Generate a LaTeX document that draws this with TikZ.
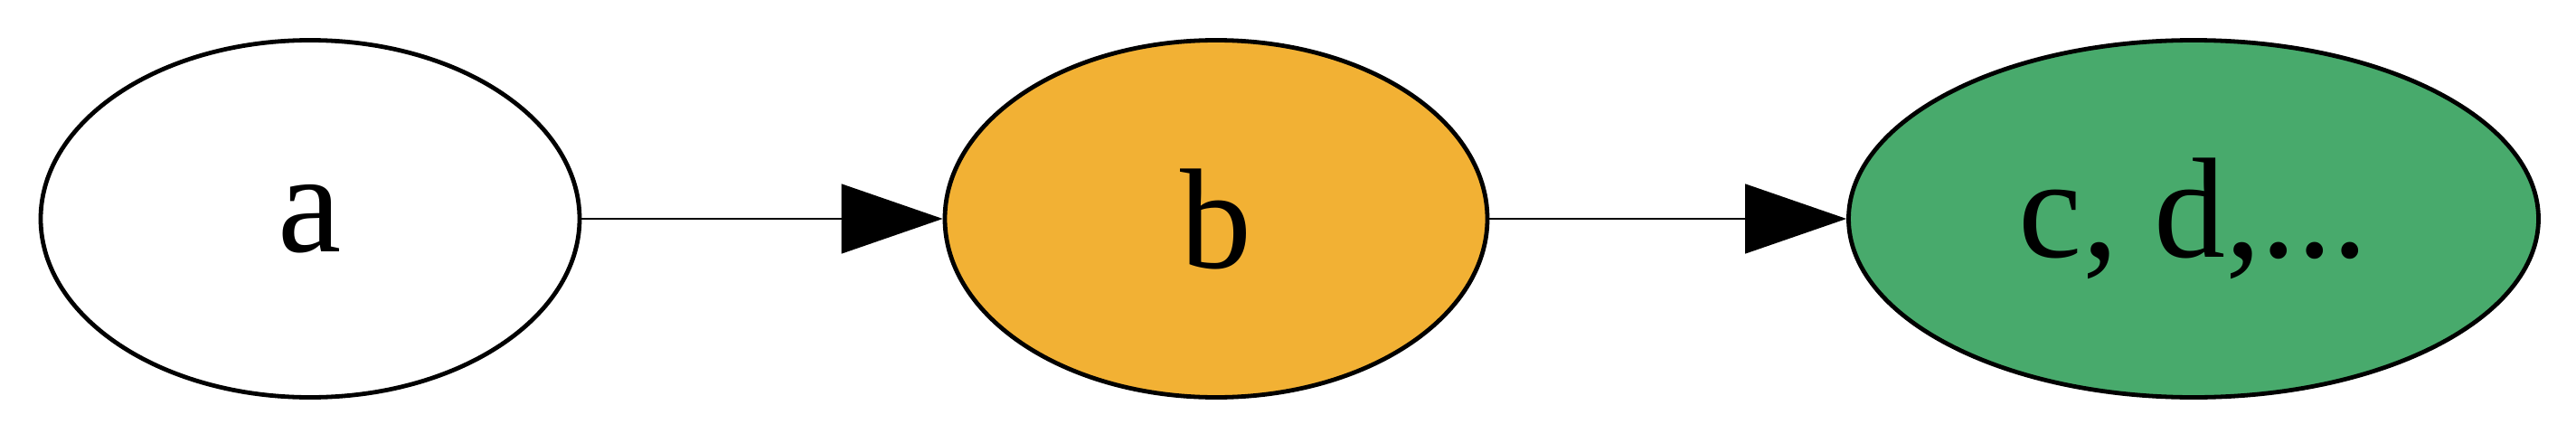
\documentclass[tikz,border=0pt]{standalone}
\usepackage{fontspec}
\setmainfont{Liberation Serif}
\usetikzlibrary{shapes.geometric,arrows.meta}
\definecolor{borange}{HTML}{F2B134}
\definecolor{bgreen}{HTML}{48AA6C}
\begin{document}
\begin{tikzpicture}[x=1pt,y=1pt,
  state/.style={ellipse,draw=black,line width=2.4pt,inner sep=0pt,minimum height=197.5pt,font=\fontsize{79}{84}\selectfont},
  edge/.style={line width=0.75pt,-{Triangle[length=56pt,width=38.5pt]}}]
\useasboundingbox (0,0) rectangle (1424.5,244.5);
\node[state,minimum width=298pt] (a) at (171.5,123.5) {a};
\node[state,minimum width=300pt,fill=borange] (b) at (672.5,123.5) {b};
\node[state,minimum width=381.5pt,fill=bgreen] (c) at (1213,123.5) {c, d,...};
\draw[edge] (a) -- (b);
\draw[edge] (b) -- (c);
\end{tikzpicture}
\end{document}
